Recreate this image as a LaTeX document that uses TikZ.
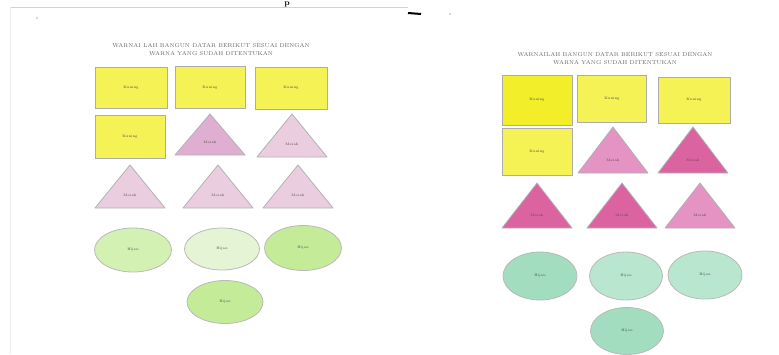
\documentclass[tikz,border=0pt]{standalone}
\usetikzlibrary{shapes.geometric}
\definecolor{kuning}{HTML}{F4F255}
\definecolor{kuningtua}{HTML}{F2EE2A}
\definecolor{merahmuda}{HTML}{EBCDE0}
\definecolor{merahsedang}{HTML}{DFAED0}
\definecolor{merahtua}{HTML}{DB64A0}
\definecolor{merahpink}{HTML}{E493C3}
\definecolor{hijaumuda}{HTML}{D3F1B2}
\definecolor{hijaupucat}{HTML}{E6F4D6}
\definecolor{hijaulime}{HTML}{C4EC98}
\definecolor{hijautosca}{HTML}{A2DDC0}
\definecolor{hijautoscamuda}{HTML}{B9E6CF}

\begin{document}
\begin{tikzpicture}[x=1pt, y=-1pt,
  kotak/.style={draw=gray!65, line width=0.6pt, inner sep=0pt, font=\fontsize{3.5}{4}\selectfont, text=black!70},
  elips/.style={ellipse, draw=gray!55, line width=0.8pt, inner sep=0pt, font=\fontsize{3.5}{4}\selectfont, text=black!70},
  segitiga/.style={draw=gray!60, line width=0.8pt, line join=round},
  tulisan/.style={font=\fontsize{3.5}{4}\selectfont, text=black!70},
  judul/.style={font=\fontsize{5.6}{8}\selectfont, align=center, text=black!60}]
  \useasboundingbox (0,0) rectangle (779,354);

  % Tepi halaman
  \draw[gray!35, line width=1pt] (10,7) -- (408,7);
  \draw[gray!15, line width=1pt] (10,7) -- (10,354);
  \draw[black, line width=2pt] (408,13) -- (421,14);
  \fill[gray!60] (37,18) circle (0.8pt);
  \fill[gray!60] (450,14) circle (0.8pt);
  \node[font=\fontsize{8}{8}\bfseries, anchor=north, inner sep=1pt] (huruf) at (287,1) {p};

  % Judul lembar kiri dan kanan
  \node[judul] (judulkiri) at (211,50) {WARNAI LAH BANGUN DATAR BERIKUT SESUAI DENGAN\\WARNA YANG SUDAH DITENTUKAN};
  \node[judul] (judulkanan) at (615,59) {WARNAILAH BANGUN DATAR BERIKUT SESUAI DENGAN\\WARNA YANG SUDAH DITENTUKAN};

  % Persegi panjang (kuning)
  \foreach \n/\x/\y/\w/\h/\c in {k1/131/87.5/72/41/kuning, k2/210/87.5/70/42/kuning,
      k3/291/88/72/42/kuning, k4/130/136.5/70/43/kuning,
      k5/537/100/70/50/kuningtua, k6/612/99/69/47/kuning,
      k7/694/100/72/46/kuning, k8/537/151.5/70/47/kuning}
    \node[kotak, minimum width=\w pt, minimum height=\h pt, fill=\c] (\n) at (\x,\y) {Kuning};

  % Segitiga (merah)
  \foreach \n/\x/\ya/\yb/\c in {m1/210/114/155/merahsedang, m2/292/114/157/merahmuda,
      m3/130/165/208/merahmuda, m4/218/165/208/merahmuda, m5/298/165/208/merahmuda,
      m6/613/127/173/merahpink, m7/693/127/173/merahtua,
      m8/537/183/228/merahtua, m9/622/183/228/merahtua, m10/700/183/228/merahpink} {
    \filldraw[segitiga, fill=\c] ({\x-35},\yb) -- (\x,\ya) -- ({\x+35},\yb) -- cycle;
    \node[tulisan] (\n) at (\x,{\yb-13}) {Merah};
  }

  % Elips (hijau)
  \foreach \n/\x/\y/\w/\h/\c in {h1/133/250/77/44/hijaumuda, h2/222/249/75/42/hijaupucat,
      h3/303/248/77/45/hijaulime, h4/225/302/76/43/hijaulime,
      h5/540/276/74/48/hijautosca, h6/626/276/73/48/hijautoscamuda,
      h7/705/275/74/48/hijautoscamuda, h8/627/331/73/47/hijautosca}
    \node[elips, minimum width=\w pt, minimum height=\h pt, fill=\c] (\n) at (\x,\y) {Hijau};
\end{tikzpicture}
\end{document}
